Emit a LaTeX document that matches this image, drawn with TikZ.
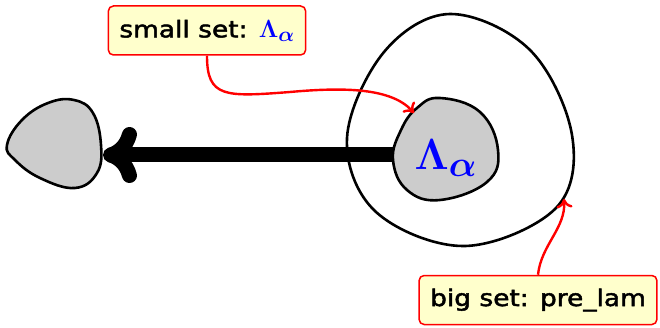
\documentclass[tikz,border=0pt]{standalone}
\usepackage{graphicx}
\usepackage{fontspec}
\usepackage{bm}
\setmainfont[FakeStretch=1.15,FakeBold=2]{DejaVu Sans}
\usetikzlibrary{arrows.meta}
\definecolor{notefill}{HTML}{FFFFCC}
\definecolor{blobgray}{HTML}{CCCCCC}
\newcommand{\lamsym}{{\Huge$\bm{\Lambda_\alpha}$}}
\tikzset{
  note/.style={draw=red, line width=1.5pt, fill=notefill, rounded corners=5pt,
    font=\fontsize{23}{27}\selectfont, inner xsep=11pt, minimum height=49pt, anchor=center},
  blob/.style={draw=black, line width=2.6pt, fill=blobgray},
  outerblob/.style={draw=black, line width=2.6pt},
  link/.style={draw=red, line width=2.4pt, -{Computer Modern Rightarrow[length=9pt,width=16pt]}},
  bigarrow/.style={line width=15pt, -{Computer Modern Rightarrow[length=34pt,width=56pt]}, line cap=round}
}
\begin{document}
\begin{tikzpicture}[x=1pt,y=-1pt]
\useasboundingbox (0,0) rectangle (660,328);
% outer blob
\draw[outerblob] plot[smooth cycle, tension=0.6] coordinates {(450,14) (530,50) (572,135) (556,208) (465,246) (376,212) (347,138) (384,52)};
% left blob
\draw[blob] plot[smooth cycle, tension=0.7] coordinates {(7,145) (22,120) (48,103) (74,100) (93,113) (101,145) (97,173) (75,188) (40,178) (15,160)};
\coordinate (lefttip) at (103,155);
\coordinate (innerleft) at (398,155);
\draw[bigarrow] (innerleft) -- (lefttip);
% inner blob
\draw[blob] plot[smooth cycle, tension=0.7] coordinates {(440,98) (480,112) (498,150) (487,182) (440,200) (407,190) (393,160) (401,130) (417,108)};
\node[text=blue] (lam) at (446,158) {\scalebox{1.75}{\lamsym}};
\coordinate (innertl) at (414,113);
\coordinate (outerr) at (564,199);
% notes
\node[note] (small) at (207,30.5) {small set: \textcolor{blue}{\lamsym}};
\node[note] (big) at (538,300) {big set: pre\_lam};
\draw[link] (small.south) .. controls +(0,42) and (225,97) .. (290,92) .. controls (345,87) and (392,88) .. (innertl);
\draw[link] (big.north) .. controls (541,245) and (566,228) .. (outerr);
\end{tikzpicture}
\end{document}
